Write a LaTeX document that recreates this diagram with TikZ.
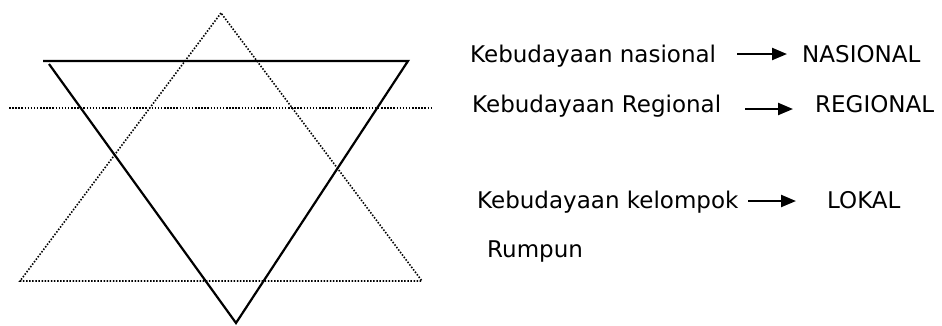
\documentclass[tikz,border=0pt]{standalone}
\usepackage{fontspec}
\setmainfont{DejaVu Sans}
\usetikzlibrary{arrows.meta}
\begin{document}
\begin{tikzpicture}[x=1pt,y=-1pt,
 lbl/.style={anchor=base west,inner sep=0pt,font=\fontsize{23}{27}\selectfont},
 solidline/.style={line width=2.2pt,line join=miter},
 dotline/.style={line width=1.6pt,dash pattern=on 1.5pt off 1.6pt},
 arr/.style={line width=2.3pt,-{Triangle[length=15pt,width=12pt]}}]
\useasboundingbox (0,0) rectangle (942,325);
% dotted triangle and dotted line
\coordinate (dA) at (221,13);
\coordinate (dB) at (20,281);
\coordinate (dC) at (422,281);
\draw[dotline] (dA) -- (dB) -- (dC) -- cycle;
\coordinate (hL) at (9,108);
\coordinate (hR) at (433,108);
\draw[dotline] (hL) -- (hR);
% solid inverted triangle
\coordinate (sL) at (43,61);
\coordinate (sR) at (408,61);
\coordinate (sL2) at (49,64);
\coordinate (sB) at (236,323);
\draw[solidline] (sL) -- (sR) -- (sB) -- (sL2);
% labels
\node[lbl] (k1) at (470,62) {Kebudayaan nasional};
\node[lbl] (n1) at (802,62) {NASIONAL};
\node[lbl] (k2) at (472,112) {Kebudayaan Regional};
\node[lbl] (n2) at (815,112) {REGIONAL};
\node[lbl] (k3) at (477,208) {Kebudayaan kelompok};
\node[lbl] (n3) at (827,208) {LOKAL};
\node[lbl] (k4) at (487,257) {Rumpun};
% arrows
\coordinate (a1s) at (737,54);
\coordinate (a1e) at (787,54);
\coordinate (a2s) at (745,109);
\coordinate (a2e) at (793,109);
\coordinate (a3s) at (748,201);
\coordinate (a3e) at (796,201);
\draw[arr] (a1s) -- (a1e);
\draw[arr] (a2s) -- (a2e);
\draw[arr] (a3s) -- (a3e);
\end{tikzpicture}
\end{document}
